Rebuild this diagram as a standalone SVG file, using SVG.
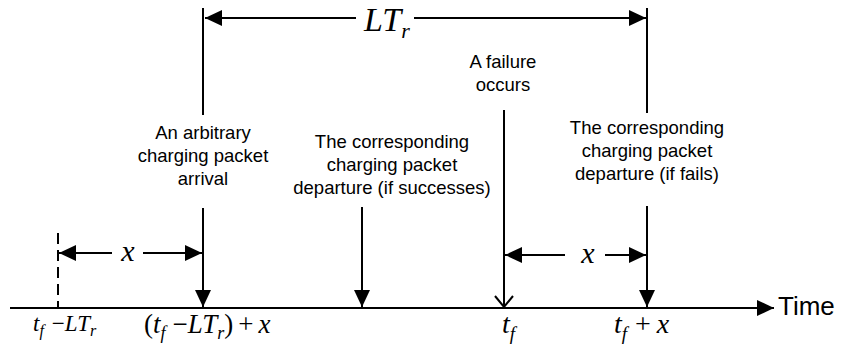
<svg xmlns="http://www.w3.org/2000/svg" width="841" height="356" viewBox="0 0 841 356">
<defs>
<marker id="ah" markerUnits="userSpaceOnUse" markerWidth="18" markerHeight="16" refX="17" refY="8" orient="auto-start-reverse" viewBox="0 0 18 16">
<path d="M0,0 L17,8 L0,16 Z" fill="#000"/>
</marker>
<style>
.ln{stroke:#000;stroke-width:2;fill:none}
.lbl{font-family:"Liberation Sans",Arial,sans-serif;font-size:18.5px;fill:#000;text-anchor:middle}
.m{font-family:"Liberation Serif","Times New Roman",serif;font-style:italic;fill:#000}
.u{font-style:normal}
</style>
</defs>
<rect width="841" height="356" fill="#fff"/>
<g id="connectors">
<line id="axis" class="ln" x1="10" y1="308" x2="774" y2="308" marker-end="url(#ah)"/>
<line id="lt-span" class="ln" x1="205" y1="18" x2="356" y2="18" marker-start="url(#ah)"/>
<line class="ln" x1="414" y1="18" x2="646" y2="18" marker-end="url(#ah)"/>
<line class="ln" x1="203" y1="8" x2="203" y2="115"/>
<line class="ln" x1="203" y1="208" x2="203" y2="307" marker-end="url(#ah)"/>
<line class="ln" x1="647" y1="8" x2="647" y2="113"/>
<line class="ln" x1="647" y1="206" x2="647" y2="307" marker-end="url(#ah)"/>
<line class="ln" x1="362" y1="207" x2="362" y2="307" marker-end="url(#ah)"/>
<line class="ln" x1="504" y1="110" x2="504" y2="307"/>
<polyline class="ln" points="495,296 504,307 513,296"/>
<line class="ln" x1="58" y1="233" x2="58" y2="308" stroke-dasharray="11,6"/>
<line class="ln" x1="59" y1="253" x2="112" y2="253" marker-start="url(#ah)"/>
<line class="ln" x1="143" y1="253" x2="202" y2="253" marker-end="url(#ah)"/>
<line class="ln" x1="505" y1="255" x2="565" y2="255" marker-start="url(#ah)"/>
<line class="ln" x1="605" y1="255" x2="646" y2="255" marker-end="url(#ah)"/>
</g>
<g id="lt-label"><text class="m" x="364" y="31" font-size="34">LT<tspan font-size="22" dy="7">r</tspan></text></g>
<g id="failure"><text class="lbl" x="503" y="68">A failure</text><text class="lbl" x="503" y="91">occurs</text></g>
<g id="arrival"><text class="lbl" x="203" y="139">An arbitrary</text><text class="lbl" x="203" y="162">charging packet</text><text class="lbl" x="203" y="185">arrival</text></g>
<g id="dep-success"><text class="lbl" x="392" y="148">The corresponding</text><text class="lbl" x="392" y="171">charging packet</text><text class="lbl" x="392" y="194">departure (if successes)</text></g>
<g id="dep-fail"><text class="lbl" x="647" y="134">The corresponding</text><text class="lbl" x="647" y="157">charging packet</text><text class="lbl" x="647" y="180">departure (if fails)</text></g>
<g id="x-left"><text class="m" x="128" y="261" font-size="30" text-anchor="middle">x</text></g>
<g id="x-right"><text class="m" x="588" y="263" font-size="30" text-anchor="middle">x</text></g>
<g id="time"><text x="778" y="315" font-family="Liberation Sans,Arial,sans-serif" font-size="26">Time</text></g>
<g id="label-tf-ltr"><text class="m" x="33" y="331" font-size="23">t<tspan font-size="16" dy="5">f</tspan><tspan class="u" dy="-5" dx="8">−</tspan><tspan>LT</tspan><tspan font-size="16" dy="5">r</tspan></text></g>
<g id="label-arr"><text class="m" x="144" y="333" font-size="27"><tspan class="u">(</tspan>t<tspan font-size="18" dy="6">f</tspan><tspan class="u" dy="-6" dx="7">−</tspan><tspan>LT</tspan><tspan font-size="18" dy="6">r</tspan><tspan class="u" dy="-6">)</tspan><tspan class="u" dx="5">+</tspan><tspan dx="5">x</tspan></text></g>
<g id="label-tf"><text class="m" x="502" y="333" font-size="28">t<tspan font-size="19" dy="7">f</tspan></text></g>
<g id="label-tfx"><text class="m" x="614" y="333" font-size="28">t<tspan font-size="19" dy="7">f</tspan><tspan class="u" dy="-7" dx="8">+</tspan><tspan dx="6">x</tspan></text></g>
</svg>
